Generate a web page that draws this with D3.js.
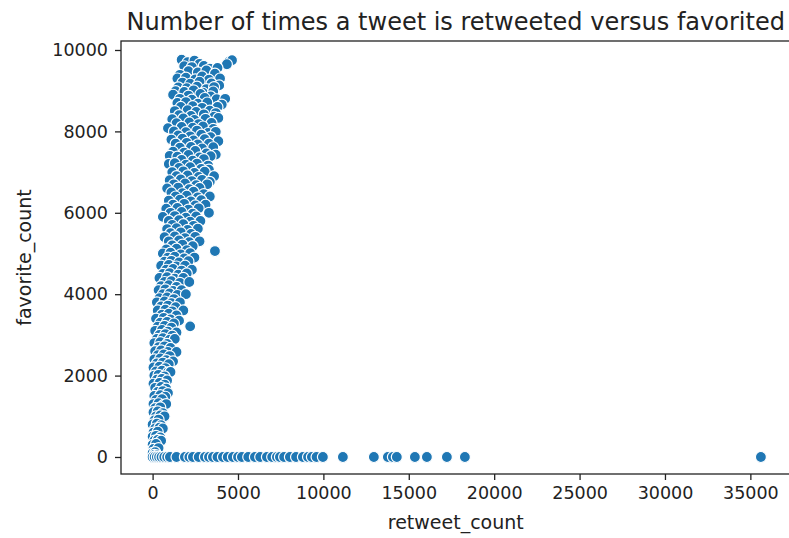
<!DOCTYPE html>
<html>
<head>
<meta charset="utf-8">
<script src="https://cdn.jsdelivr.net/npm/d3@7"></script>
<style>
  body { margin: 0; background: #fff; }
  svg { display: block; font-family: "DejaVu Sans", sans-serif; }
  .tick text { fill: #222; }
</style>
</head>
<body>
<svg id="chart"></svg>
<script>
var chartTitle = "Number of times a tweet is retweeted versus favorited";
var xLabel = "retweet_count";
var yLabel = "favorite_count";

var xTicks = [0, 5000, 10000, 15000, 20000, 25000, 30000, 35000];
var yTicks = [0, 2000, 4000, 6000, 8000, 10000];

// [retweet_count, favorite_count], main cluster
var clusterPoints = [
  [1700,9760],[2050,9700],[2450,9740],[2750,9660],[4480,9720],[4650,9750],[4350,9650],
  [1850,9600],[2300,9580],[3000,9610],[3350,9540],[3800,9560],
  [2100,9480],[2650,9450],[3150,9500],[3650,9420],[1600,9390],
  [1450,9300],[1950,9320],[2500,9280],[2900,9350],[3300,9270],[3950,9300],
  [1750,9200],[2200,9170],[2750,9220],[3450,9180],[3900,9130],
  [1500,9080],[2000,9060],[2600,9100],[3150,9040],[3600,9090],
  [1350,8990],[1850,8970],[2400,9010],[2950,8950],[3550,8980],
  [1200,8900],[2100,8880],[2800,8920],[3400,8860],
  [1600,8800],[2300,8780],[3050,8820],[3750,8790],[4250,8800],
  [1450,8700],[1950,8720],[2650,8680],[3200,8710],[4050,8660],
  [1650,8600],[2350,8620],[2900,8580],[3800,8600],
  [1300,8500],[2050,8520],[2550,8480],[3350,8510],[3700,8450],
  [1550,8400],[2250,8380],[3000,8420],[3600,8360],
  [1150,8300],[1800,8320],[2450,8280],[3100,8310],[3850,8330],
  [1400,8200],[2150,8220],[2700,8180],[3450,8210],
  [900,8080],[1700,8110],[2350,8090],[2950,8120],[3550,8060],
  [1250,8000],[1950,7980],[2600,8020],[3250,7960],[3700,7990],
  [1500,7900],[2200,7880],[2850,7920],[3400,7860],
  [1100,7800],[1750,7820],[2400,7780],[3050,7810],[3850,7760],
  [1350,7700],[2000,7720],[2650,7680],[3300,7700],
  [1600,7600],[2250,7620],[2900,7580],[3550,7610],
  [1200,7500],[1850,7480],[2500,7520],[3150,7460],[3700,7430],
  [1000,7400],[1450,7380],[2100,7420],[2750,7360],[3400,7390],
  [1700,7300],[2350,7280],[3000,7320],
  [950,7200],[1300,7220],[1950,7180],[2600,7210],[3250,7160],
  [1550,7100],[2200,7120],[2850,7080],[3300,7060],
  [1150,7000],[1800,7020],[2450,6980],[3050,7010],
  [1400,6900],[2050,6920],[2700,6880],[3600,6900],
  [1000,6800],[1650,6820],[2300,6780],[2900,6810],[3350,6760],
  [1250,6700],[1900,6720],[2550,6680],[3200,6700],
  [850,6600],[1500,6620],[2150,6580],[2750,6610],
  [1100,6500],[1750,6480],[2400,6520],[3000,6460],
  [1350,6400],[2000,6420],[2650,6380],[3350,6400],
  [950,6300],[1600,6320],[2250,6280],[2850,6310],
  [1200,6200],[1850,6220],[2500,6180],[3100,6200],
  [800,6100],[1450,6120],[2100,6080],[2700,6110],
  [1050,6000],[1700,6020],[2350,5980],[3300,6000],
  [600,5900],[1300,5920],[1950,5880],[2550,5910],
  [950,5800],[1550,5820],[2200,5780],[2800,5800],
  [1150,5700],[1800,5720],[2400,5680],
  [850,5600],[1400,5620],[2050,5580],[2650,5610],
  [1050,5500],[1650,5520],[2250,5480],
  [700,5400],[1300,5420],[1900,5380],[2500,5410],
  [950,5300],[1550,5320],[2150,5280],[2750,5300],
  [1150,5200],[1750,5220],[2350,5180],
  [800,5100],[1400,5120],[2000,5080],
  [3650,5060],
  [600,5000],[1050,5020],[1650,4980],[2200,5010],
  [900,4900],[1300,4920],[1850,4880],[2450,4900],
  [700,4800],[1100,4820],[1550,4780],[2100,4810],
  [500,4700],[950,4720],[1400,4680],[1900,4700],
  [800,4600],[1200,4620],[1700,4580],[2300,4600],
  [600,4500],[1000,4520],[1500,4480],[2000,4510],
  [400,4400],[850,4420],[1300,4380],[1800,4400],
  [700,4300],[1100,4320],[1600,4280],[2150,4300],
  [500,4200],[950,4220],[1400,4180],
  [350,4100],[750,4120],[1200,4080],[1700,4100],
  [600,4000],[1000,4020],[1450,3980],[1950,4000],
  [400,3900],[850,3920],[1250,3880],
  [250,3800],[700,3820],[1100,3780],[1600,3800],
  [500,3700],[900,3720],[1350,3680],
  [300,3600],[750,3620],[1150,3580],[1800,3600],
  [550,3500],[950,3520],[1400,3480],
  [200,3400],[650,3420],[1050,3380],[1550,3350],
  [450,3300],[850,3320],[1250,3280],
  [300,3200],[700,3220],[1100,3180],[2200,3210],
  [150,3100],[550,3120],[900,3080],[1400,3060],
  [400,3000],[750,3020],[1150,2980],
  [250,2900],[600,2920],[1000,2880],[1300,2900],
  [100,2800],[450,2820],[850,2780],
  [350,2700],[700,2720],[1050,2680],
  [150,2600],[500,2620],[900,2580],[1400,2580],
  [300,2500],[650,2520],[1000,2480],
  [100,2400],[450,2420],[800,2380],[1200,2350],
  [250,2300],[600,2320],[950,2280],
  [50,2200],[400,2220],[750,2180],
  [200,2100],[550,2120],[900,2080],[1050,2090],
  [100,2000],[350,2020],[700,1980],
  [250,1900],[550,1920],[850,1880],
  [50,1800],[400,1820],[700,1780],
  [150,1700],[500,1720],[800,1680],
  [300,1600],[600,1620],[900,1570],
  [100,1500],[450,1520],[750,1480],
  [200,1400],[550,1420],
  [50,1300],[350,1320],[650,1280],[800,1300],
  [150,1200],[450,1220],
  [50,1100],[300,1120],[600,1080],
  [200,1000],[450,1020],[700,1000],
  [100,900],[350,920],
  [0,800],[250,820],[500,780],
  [150,700],[400,720],[600,700],
  [50,600],[300,620],
  [0,500],[200,520],[450,480],
  [100,400],[300,420],[500,400],
  [0,300],[200,320],
  [50,200],[350,220],
  [0,100],[150,120],
  [100,50],[250,40]
];

// tweets with favorite_count 0 (retweets), along the bottom
var zeroFavRetweets = [0, 120, 250, 380, 520, 680, 850, 1013, 1400, 1891, 2150, 2360,
  2700, 3063, 3300, 3531, 3800, 4117, 4400, 4702, 5000, 5228, 5600, 5990, 6300, 6693,
  7000, 7278, 7454, 7700, 8039, 8400, 8800, 9100, 9327, 9600, 9971, 11142, 12956,
  13776, 14069, 14300, 15357, 16060, 17231, 18285, 35617];

var points = clusterPoints.concat(zeroFavRetweets.map(function(r) { return [r, 0]; }));

var width = 789, height = 538;
var margin = { top: 41, right: -1.5, bottom: 64, left: 121 };

var svg = d3.select("#chart")
  .attr("width", width)
  .attr("height", height);

var x = d3.scaleLinear()
  .domain([-1850, 37350])
  .range([margin.left, width - margin.right]);

var y = d3.scaleLinear()
  .domain([-418, 10221])
  .range([height - margin.bottom, margin.top]);

// points
svg.append("g")
  .selectAll("circle")
  .data(points)
  .enter().append("circle")
  .attr("cx", function(d) { return x(d[0]); })
  .attr("cy", function(d) { return y(d[1]); })
  .attr("r", 5.5)
  .attr("fill", "#1f77b4")
  .attr("stroke", "#fff")
  .attr("stroke-width", 1.2);

// frame
svg.append("rect")
  .attr("x", margin.left)
  .attr("y", margin.top)
  .attr("width", width - margin.right - margin.left)
  .attr("height", height - margin.bottom - margin.top)
  .attr("fill", "none")
  .attr("stroke", "#222")
  .attr("stroke-width", 1.3);

var xAxis = svg.append("g")
  .attr("transform", "translate(0," + (height - margin.bottom) + ")")
  .call(d3.axisBottom(x).tickValues(xTicks).tickSize(6).tickPadding(7).tickFormat(d3.format("d")));

var yAxis = svg.append("g")
  .attr("transform", "translate(" + margin.left + ",0)")
  .call(d3.axisLeft(y).tickValues(yTicks).tickSize(6).tickPadding(7).tickFormat(d3.format("d")));

[xAxis, yAxis].forEach(function(a) {
  a.select(".domain").remove();
  a.selectAll(".tick line").attr("stroke", "#222").attr("stroke-width", 1.3);
  a.selectAll(".tick text").attr("font-size", 17.5).attr("font-family", "DejaVu Sans");
});

svg.append("text")
  .attr("x", (margin.left + width - margin.right) / 2)
  .attr("y", 30)
  .attr("text-anchor", "middle")
  .attr("font-size", 24)
  .attr("fill", "#222")
  .text(chartTitle);

svg.append("text")
  .attr("x", (margin.left + width - margin.right) / 2)
  .attr("y", 529)
  .attr("text-anchor", "middle")
  .attr("font-size", 19)
  .attr("fill", "#222")
  .text(xLabel);

svg.append("text")
  .attr("transform", "translate(31," + ((margin.top + height - margin.bottom) / 2) + ") rotate(-90)")
  .attr("text-anchor", "middle")
  .attr("font-size", 19)
  .attr("fill", "#222")
  .text(yLabel);
</script>
</body>
</html>
